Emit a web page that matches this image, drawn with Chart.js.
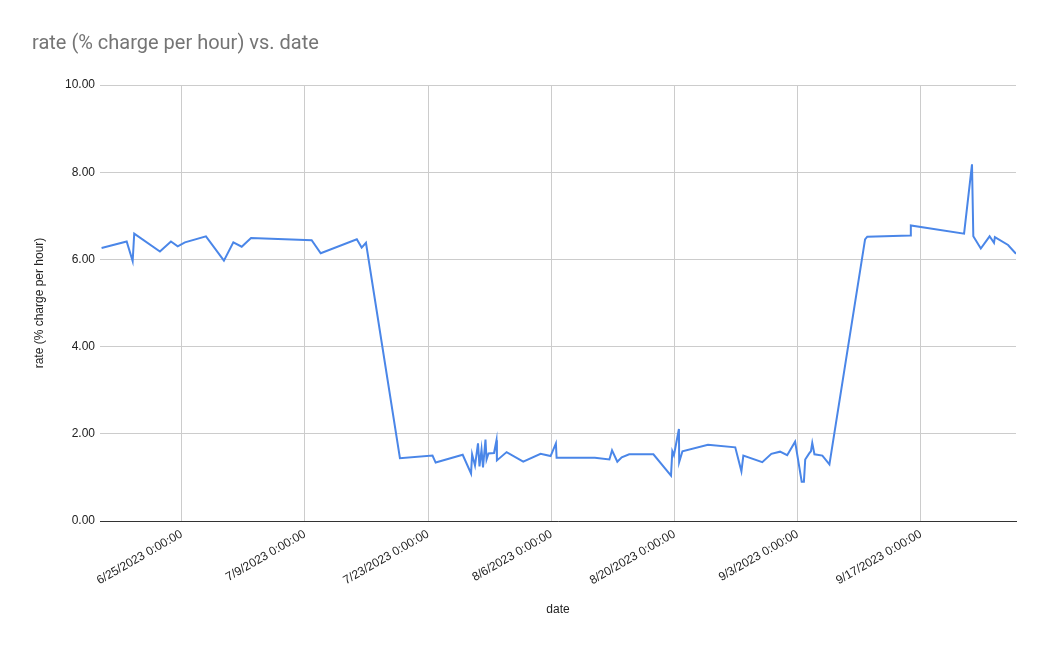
<!DOCTYPE html>
<html>
<head>
<meta charset="utf-8">
<script src="https://cdn.jsdelivr.net/npm/chart.js@4"></script>
<style>
  html, body { margin: 0; padding: 0; background: #fff; }
  #wrap { width: 1049px; height: 648px; }
</style>
</head>
<body>
<div id="wrap"><canvas id="chart" width="1049" height="648"></canvas></div>
<script>
// days after 6/25/2023 0:00
var dayOffsets = [
  -9.1, -6.25, -5.57, -5.39, -2.47, -1.22, -0.45, 0.37, 2.76, 4.8,
  5.87, 6.82, 7.88, 14.77, 15.8, 19.9, 20.45, 20.94, 24.8, 28.5,
  28.86, 31.93, 32.88, 33.0, 33.33, 33.67, 33.84, 34.07, 34.24, 34.52,
  34.64, 34.86, 35.49, 35.77, 35.82, 36.92, 38.81, 40.78, 41.92, 42.52,
  42.6, 46.95, 48.6, 48.9, 49.5, 50.0, 50.85, 53.6, 55.6, 55.75,
  55.93, 56.5, 56.53, 56.9, 59.8, 62.9, 63.6, 63.82, 65.97, 67.0,
  67.99, 68.8, 69.7, 70.45, 70.7, 70.85, 71.3, 71.5, 71.65, 71.9,
  72.8, 73.6, 77.65, 77.9, 82.8, 82.85, 88.9, 89.8, 89.95, 90.8,
  91.8, 92.3, 92.4, 93.9, 94.8
];
var rates = [
  6.26, 6.41, 5.96, 6.59, 6.18, 6.41, 6.30, 6.39, 6.53, 5.97,
  6.39, 6.29, 6.49, 6.44, 6.14, 6.46, 6.27, 6.38, 1.44, 1.50,
  1.34, 1.52, 1.09, 1.53, 1.27, 1.78, 1.25, 1.64, 1.23, 1.87,
  1.41, 1.55, 1.56, 1.85, 1.39, 1.58, 1.36, 1.54, 1.49, 1.78,
  1.45, 1.45, 1.41, 1.62, 1.36, 1.46, 1.53, 1.53, 1.04, 1.60,
  1.51, 2.11, 1.35, 1.60, 1.75, 1.69, 1.14, 1.50, 1.35, 1.54,
  1.59, 1.51, 1.82, 0.90, 0.90, 1.41, 1.55, 1.60, 1.79, 1.53,
  1.50, 1.30, 6.46, 6.52, 6.55, 6.78, 6.59, 8.18, 6.53, 6.25,
  6.53, 6.38, 6.51, 6.33, 6.13
];
var xTicks = [0, 14, 28, 42, 56, 70, 84];
var yTicks = [0, 2, 4, 6, 8, 10];

function dayLabel(v) {
  var d = new Date(2023, 5, 25 + v);
  return (d.getMonth() + 1) + '/' + d.getDate() + '/' + d.getFullYear() + ' 0:00:00';
}

var points = dayOffsets.map(function(d, i) { return { x: d, y: rates[i] }; });
var axisFont = { family: 'Arial, "Liberation Sans", sans-serif', size: 12 };

new Chart(document.getElementById('chart'), {
  type: 'line',
  data: {
    datasets: [{
      label: 'rate (% charge per hour)',
      data: points,
      borderColor: '#4a86e8',
      borderWidth: 2,
      pointRadius: 0,
      tension: 0,
      fill: false
    }]
  },
  options: {
    responsive: false,
    animation: false,
    layout: { padding: { left: 32, right: 33, top: 0, bottom: 0 } },
    plugins: {
      legend: { display: false },
      tooltip: { enabled: false },
      title: {
        display: true,
        text: 'rate (% charge per hour) vs. date',
        align: 'start',
        color: '#757575',
        font: { family: 'Roboto, Arial, sans-serif', size: 20, weight: 'normal' },
        padding: { top: 32, bottom: 29 }
      }
    },
    scales: {
      x: {
        type: 'linear',
        min: -9.28,
        max: 94.8,
        afterBuildTicks: function(axis) {
          axis.ticks = xTicks.map(function(v) { return { value: v }; });
        },
        afterFit: function(axis) { axis.height = 127; },
        ticks: {
          autoSkip: false,
          minRotation: 30,
          maxRotation: 30,
          padding: 6,
          color: '#222',
          font: axisFont,
          callback: function(v) { return dayLabel(v); }
        },
        grid: { color: '#cccccc', drawTicks: false },
        border: { display: true, color: '#333', width: 1 },
        title: {
          display: true,
          text: 'date',
          color: '#222',
          font: axisFont,
          padding: { top: 0, bottom: 31 }
        }
      },
      y: {
        min: 0,
        max: 10,
        afterBuildTicks: function(axis) {
          axis.ticks = yTicks.map(function(v) { return { value: v }; });
        },
        afterFit: function(axis) { axis.width = 68; },
        ticks: {
          padding: 5,
          color: '#222',
          font: axisFont,
          callback: function(v) { return v.toFixed(2); }
        },
        grid: { color: '#cccccc', drawTicks: false },
        border: { display: false },
        title: {
          display: true,
          text: 'rate (% charge per hour)',
          color: '#222',
          font: axisFont,
          padding: { top: 0, bottom: 0 }
        }
      }
    }
  }
});
</script>
</body>
</html>
